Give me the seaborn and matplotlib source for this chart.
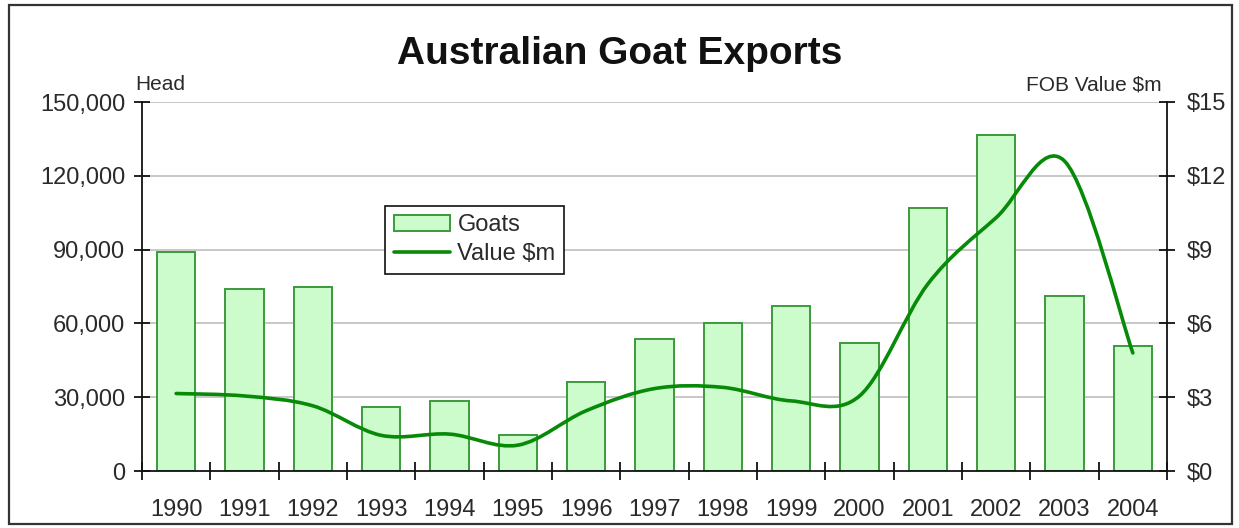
import seaborn as sns
import matplotlib.pyplot as plt
import pandas as pd
from matplotlib.path import Path
from matplotlib.patches import PathPatch, Patch, Rectangle
from matplotlib.lines import Line2D
from matplotlib.ticker import FuncFormatter, MultipleLocator

years = ["1990", "1991", "1992", "1993", "1994", "1995", "1996", "1997",
         "1998", "1999", "2000", "2001", "2002", "2003", "2004"]
goats = [89000, 74000, 75000, 26000, 28500, 14800, 36000, 53500,
         60000, 67000, 52000, 107000, 136500, 71300, 51000]
value_m = [3.15, 3.05, 2.65, 1.45, 1.5, 1.05, 2.45, 3.35,
           3.4, 2.85, 3.05, 7.6, 10.3, 12.6, 4.8]

sns.set_theme(style="white")
plt.rcParams['font.family'] = ['Liberation Sans', 'DejaVu Sans']

bar_fill = "#ccfccc"
bar_edge = "#3c9a3c"
line_col = "#078a07"
txt = "#2a2a2a"

fig = plt.figure(figsize=(12.39, 5.28), dpi=100)
ax = fig.add_axes([142 / 1239, 57 / 528, 1025 / 1239, 369 / 528])

df = pd.DataFrame({"Year": years, "Goats": goats})
sns.barplot(data=df, x="Year", y="Goats", ax=ax, color=bar_fill,
            edgecolor=bar_edge, linewidth=1.4, width=0.56, saturation=1)

ax.set_ylim(0, 150000)
ax.set_xlim(-0.5, len(years) - 0.5)
ax.yaxis.set_major_locator(MultipleLocator(30000))
ax.yaxis.set_major_formatter(FuncFormatter(lambda v, p: f"{int(v):,}"))
ax.set_xlabel("")
ax.set_ylabel("")
for v in range(30000, 150001, 30000):
    ax.axhline(v, color="#c4c4c4", lw=1.3, zorder=0)
ax.set_axisbelow(True)

for s in ["top", "right"]:
    ax.spines[s].set_visible(False)
for s in ["left", "bottom"]:
    ax.spines[s].set_color("#111111")
    ax.spines[s].set_linewidth(1.3)

ax.tick_params(axis="y", which="major", direction="inout", length=12, width=1.3,
               colors="#111111", labelcolor=txt, labelsize=17, pad=6, left=True)
ax.tick_params(axis="x", which="major", length=0, labelcolor=txt, labelsize=17, pad=20)
ax.set_xticks([i + 0.5 for i in range(-1, len(years))], minor=True)
ax.tick_params(axis="x", which="minor", direction="inout", length=13, width=1.3,
               colors="#111111", bottom=True)

ax2 = ax.twinx()
ax2.set_ylim(0, 15)
ax2.yaxis.set_major_locator(MultipleLocator(3))
ax2.yaxis.set_major_formatter(FuncFormatter(lambda v, p: f"${int(v)}"))
ax2.grid(False)
for s in ["top", "left", "bottom"]:
    ax2.spines[s].set_visible(False)
ax2.spines["right"].set_color("#111111")
ax2.spines["right"].set_linewidth(1.3)
ax2.tick_params(axis="y", direction="inout", length=12, width=1.3,
                colors="#111111", labelcolor=txt, labelsize=17, pad=8, right=True)

# smoothed line (Excel style) through the data points
xs = list(range(len(value_m)))
pts = list(zip(xs, value_m))
verts = [pts[0]]
codes = [Path.MOVETO]
for i in range(len(pts) - 1):
    p0 = pts[i - 1] if i > 0 else pts[i]
    p1 = pts[i]
    p2 = pts[i + 1]
    p3 = pts[i + 2] if i + 2 < len(pts) else pts[i + 1]
    c1 = (p1[0] + (p2[0] - p0[0]) / 6, p1[1] + (p2[1] - p0[1]) / 6)
    c2 = (p2[0] - (p3[0] - p1[0]) / 6, p2[1] - (p3[1] - p1[1]) / 6)
    verts += [c1, c2, p2]
    codes += [Path.CURVE4] * 3
ax2.add_patch(PathPatch(Path(verts, codes), facecolor="none",
                        edgecolor=line_col, lw=2.6, capstyle="round"))

handles = [Patch(facecolor=bar_fill, edgecolor=bar_edge, lw=1.4, label="Goats"),
           Line2D([], [], color=line_col, lw=2.6, label="Value $m")]
leg = ax2.legend(handles=handles, loc="upper left", bbox_to_anchor=(0.226, 0.75),
                 fontsize=17, frameon=True, fancybox=False, edgecolor="#111111",
                 framealpha=1, borderpad=0.35, handlelength=2.4, handletextpad=0.3,
                 labelspacing=0.3)
leg.get_frame().set_linewidth(1.2)
for t in leg.get_texts():
    t.set_color(txt)

fig.text(0.5, 1 - 54 / 528, "Australian Goat Exports", ha="center", va="center",
         fontsize=28, fontweight="bold", color="#111111")
fig.text(135 / 1239, 1 - 90 / 528, "Head", ha="left", va="baseline",
         fontsize=15, color=txt)
fig.text(1162 / 1239, 1 - 90 / 528, "FOB Value $m", ha="right", va="baseline",
         fontsize=15, color=txt)

fig.patches.append(Rectangle((9 / 1239, 4 / 528), 1223 / 1239, 519 / 528,
                             transform=fig.transFigure, fill=False,
                             edgecolor="#333333", lw=1.6))

plt.savefig("out.png", dpi=100)
